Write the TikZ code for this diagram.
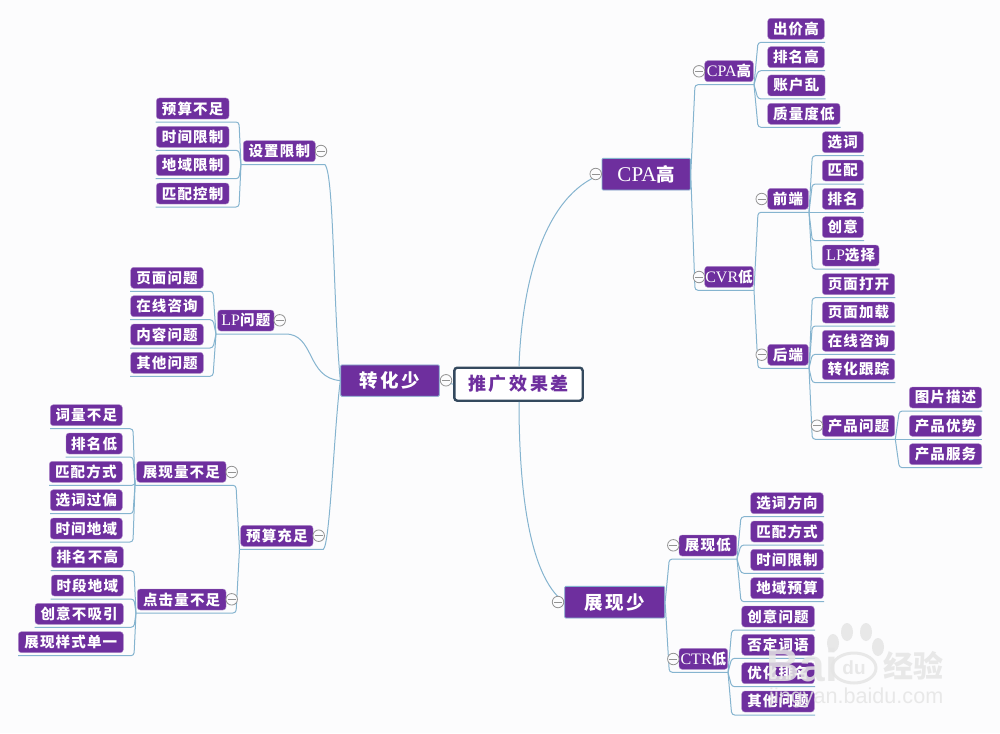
\documentclass[tikz,border=0pt]{standalone}
\usepackage{fontspec}
\setmainfont{Liberation Serif}
\newfontfamily\cjk[LetterSpace=8]{Noto Sans CJK SC}
\newfontfamily\cjkm[LetterSpace=14]{Noto Sans CJK SC}
\newfontfamily\lat{Liberation Serif}
\newfontfamily\wm{Liberation Sans}
\newfontfamily\wmc{Noto Sans CJK SC}
\definecolor{bg}{HTML}{FCFCFD}
\definecolor{pur}{HTML}{6E2F9E}
\definecolor{edgeb}{HTML}{85B4CF}
\definecolor{rootb}{HTML}{34495E}
\tikzset{
  x=1pt,y=-1pt,
  conn/.style={draw=edgeb,line width=1pt,rounded corners=3pt},
  curve/.style={draw=edgeb,line width=1pt},
  topicbox/.style={fill=pur,draw=pur!55!white,line width=0.4pt,rounded corners=3pt,inner sep=0pt,text=white,font=\cjk\bfseries\fontsize{14.5}{14.5}\selectfont},
  mainbox/.style={fill=pur,draw=edgeb,line width=0.8pt,rounded corners=1pt,inner sep=0pt,text=white,font=\cjkm\bfseries\fontsize{18.5}{18.5}\selectfont},
  rootbox/.style={fill=white,draw=rootb,line width=2.4pt,rounded corners=3pt,inner sep=0pt,text=pur,font=\cjkm\bfseries\fontsize{18}{18}\selectfont},
  markerc/.style={circle,draw=gray!85,fill=bg,line width=0.8pt,minimum size=11.5pt,inner sep=0pt,
    path picture={\draw[gray!85,line width=0.8pt] ([xshift=-4pt]path picture bounding box.center) -- ([xshift=4pt]path picture bounding box.center);}},
  wmark/.style={text=gray!20,opacity=0.85,inner sep=0pt},
}
% name, x1, x2, y1, elbow x, far x, text
\newcommand{\tpc}[7]{%
  \pgfmathsetmacro{\cxv}{(#2+#3)/2}%
  \pgfmathsetmacro{\wv}{#3-#2}%
  \pgfmathsetmacro{\cyv}{#4+10.5}%
  \pgfmathsetmacro{\uyv}{#4+24}%
  \node[topicbox,minimum width=\wv pt,minimum height=21pt] (#1) at (\cxv,\cyv) {#7};
  \coordinate (#1-a) at (#5,\uyv);
  \coordinate (#1-b) at (#6,\uyv);
}
\newcommand{\lnk}[2]{\draw[conn] (#1-b) -- (#2-a) -- (#2-b);}
\newcommand{\mrk}[3]{\node[markerc] (#1-m) at (#2,#3) {};}
\newcommand{\LL}[1]{{\lat\mdseries\fontsize{16}{16}\selectfont #1}}
\begin{document}
\begin{tikzpicture}
\useasboundingbox (0,0) rectangle (1000,733);
\fill[bg] (0,0) rectangle (1000,733);

% central and main nodes
\node[rootbox,minimum width=128.4pt,minimum height=33pt] (root) at (518.5,384.2) {推广效果差};
\node[mainbox,minimum width=98.6pt,minimum height=31.3pt] (zh) at (390,380.6) {转化少};
\node[mainbox,minimum width=88.3pt,minimum height=31.7pt] (cpa) at (646.2,174.2) {{\lat\mdseries\fontsize{21}{21}\selectfont CPA}高};
\node[mainbox,minimum width=100pt,minimum height=31.7pt] (zx) at (614.7,602.2) {展现少};

% right upper branch
\tpc{cpah}{704.7}{753.3}{60.7}{695}{754}{\LL{CPA}高}
\tpc{cvr}{704.7}{753.3}{266.3}{695}{754}{\LL{CVR}低}
\tpc{cj}{767.7}{824.3}{18.3}{758}{825}{出价高}
\tpc{pm}{767.7}{824.3}{46.7}{758}{825}{排名高}
\tpc{zh1}{767.7}{825}{75}{758}{825.5}{账户乱}
\tpc{zl}{767.7}{840}{103.3}{758}{840.5}{质量度低}
\tpc{qd}{767.7}{808.3}{188.3}{758}{809}{前端}
\tpc{hd}{767.7}{808.3}{344.3}{758}{809}{后端}
\tpc{xc}{822.3}{863.3}{131.7}{812.3}{864}{选词}
\tpc{pp}{822.3}{863.3}{160}{812.3}{864}{匹配}
\tpc{pm2}{822.3}{863.3}{188.3}{812.3}{864}{排名}
\tpc{cy}{822.3}{863.3}{216.7}{812.3}{864}{创意}
\tpc{lpx}{822.3}{879}{245}{812.3}{879.7}{\LL{LP}选择}
\tpc{ymk}{822.3}{894.7}{273.7}{812.3}{895.3}{页面打开}
\tpc{ymj}{822.3}{894.7}{302}{812.3}{895.3}{页面加载}
\tpc{zx1}{822.3}{894.7}{330.3}{812.3}{895.3}{在线咨询}
\tpc{zhg}{822.3}{894.7}{358.7}{812.3}{895.3}{转化跟踪}
\tpc{cp}{822.3}{894.7}{415.3}{812.3}{895.3}{产品问题}
\tpc{tp}{909.3}{981.7}{387}{899.3}{982.3}{图片描述}
\tpc{ys}{909.3}{981.7}{415.3}{899.3}{982.3}{产品优势}
\tpc{fw}{909.3}{981.7}{443.7}{899.3}{982.3}{产品服务}

% right lower branch
\tpc{zd}{679}{736.7}{535}{669.3}{737}{展现低}
\tpc{ctr}{679}{727.7}{648.3}{669.3}{728}{\LL{CTR}低}
\tpc{xf}{750.7}{823.3}{492.7}{741}{824}{选词方向}
\tpc{pf}{750.7}{823.3}{521}{741}{824}{匹配方式}
\tpc{sx}{750.7}{823.3}{549.3}{741}{824}{时间限制}
\tpc{dy}{750.7}{823.3}{577.7}{741}{824}{地域预算}
\tpc{cw}{741.7}{814.3}{606}{731.7}{815}{创意问题}
\tpc{fd}{741.7}{814.3}{634.3}{731.7}{815}{否定词语}
\tpc{yh}{741.7}{814.3}{662.7}{731.7}{815}{优化排名}
\tpc{qt}{741.7}{814.3}{691}{731.7}{815}{其他问题}

% left branch
\tpc{sz}{243.3}{315.3}{140.7}{325}{241}{设置限制}
\tpc{ysb}{156.3}{229}{98}{239}{155.7}{预算不足}
\tpc{sjx}{156.3}{229}{126.3}{239}{155.7}{时间限制}
\tpc{dyx}{156.3}{229}{154.7}{239}{155.7}{地域限制}
\tpc{ppk}{156.3}{229}{183}{239}{155.7}{匹配控制}
\tpc{lp}{217.7}{274}{310}{285}{216}{\LL{LP}问题}
\tpc{ymw}{130.7}{203.3}{267.3}{213}{130}{页面问题}
\tpc{zxz}{130.7}{203.3}{295.7}{213}{130}{在线咨询}
\tpc{nr}{130.7}{203.3}{324}{213}{130}{内容问题}
\tpc{qtw}{130.7}{203.3}{352.3}{213}{130}{其他问题}
\tpc{yc}{240.7}{313}{525.3}{323.3}{239.5}{预算充足}
\tpc{zb}{136.7}{226}{461.3}{236}{135}{展现量不足}
\tpc{dj}{137.3}{226}{589}{236}{136}{点击量不足}
\tpc{cl}{50.3}{122.3}{404.7}{133}{50}{词量不足}
\tpc{pd}{66}{122.3}{433}{133}{65.5}{排名低}
\tpc{pfs}{49.3}{122.3}{461.3}{135}{49}{匹配方式}
\tpc{xp}{50.3}{122.3}{489.7}{133}{50}{选词过偏}
\tpc{sd}{50.3}{122.3}{518}{133}{50}{时间地域}
\tpc{pg}{51.3}{123.3}{546.7}{134}{50.5}{排名不高}
\tpc{sdy}{51.3}{123.3}{575}{134}{50.5}{时段地域}
\tpc{cx}{35}{123.3}{603.3}{134}{34.5}{创意不吸引}
\tpc{zs}{18.3}{123.3}{631.7}{134}{18}{展现样式单一}

% connectors
\draw[curve] (root.north -| 519,0) .. controls (522,280) and (545,195) .. (cpa.west);
\draw[curve] (root.south -| 519,0) .. controls (519,480) and (527,575) .. (zx.west);
\draw[curve] (root.west) -- (zh.east);

\draw[conn] (cpa.east) -- (cpah-a) -- (cpah-b);
\draw[conn] (cpa.east) -- (cvr-a) -- (cvr-b);
\foreach \c in {cj,pm,zh1,zl}{\lnk{cpah}{\c}}
\foreach \c in {qd,hd}{\lnk{cvr}{\c}}
\foreach \c in {xc,pp,pm2,cy,lpx}{\lnk{qd}{\c}}
\foreach \c in {ymk,ymj,zx1,zhg,cp}{\lnk{hd}{\c}}
\foreach \c in {tp,ys,fw}{\lnk{cp}{\c}}
\draw[conn] (zx.east) -- (zd-a) -- (zd-b);
\draw[conn] (zx.east) -- (ctr-a) -- (ctr-b);
\foreach \c in {xf,pf,sx,dy}{\lnk{zd}{\c}}
\foreach \c in {cw,fd,yh,qt}{\lnk{ctr}{\c}}

\draw[curve] (zh.west) .. controls (333,300) and (334,175) .. (sz-a) -- (sz-b);
\draw[curve] (zh.west) .. controls (306,378) and (315,333.5) .. (lp-a) -- (lp-b);
\draw[curve] (zh.west) .. controls (334,430) and (330,545) .. (yc-a) -- (yc-b);
\foreach \c in {ysb,sjx,dyx,ppk}{\lnk{sz}{\c}}
\foreach \c in {ymw,zxz,nr,qtw}{\lnk{lp}{\c}}
\foreach \c in {zb,dj}{\lnk{yc}{\c}}
\foreach \c in {cl,pd,pfs,xp,sd}{\lnk{zb}{\c}}
\foreach \c in {pg,sdy,cx,zs}{\lnk{dj}{\c}}

% collapse markers
\mrk{root}{446}{380.3}
\mrk{cpa}{595.7}{174}
\mrk{zx}{558}{602}
\mrk{cpah}{699}{71.3}
\mrk{cvr}{699}{277}
\mrk{qd}{761.7}{199}
\mrk{hd}{761.7}{354.7}
\mrk{cp}{817}{425.7}
\mrk{zd}{673.3}{545.3}
\mrk{ctr}{673.3}{659}
\mrk{sz}{321}{151}
\mrk{lp}{279.7}{320.3}
\mrk{yc}{318.7}{535.7}
\mrk{zb}{231.7}{472}
\mrk{dj}{231.7}{599.3}

% watermark
\node[wmark,font=\wm\bfseries\fontsize{46}{46}\selectfont,anchor=west] (wba) at (766,665) {Bai};
\node[wmark,font=\wm\bfseries\fontsize{19}{19}\selectfont] (wdu) at (854,668) {du};
\draw[gray!20,opacity=0.85,line width=3pt] (854,668) ellipse (22pt and 15pt);
\foreach \a/\b in {833/643,847/632,866/632,878/647}{\fill[gray!20,opacity=0.85] (\a,\b) ellipse (6pt and 9pt);}
\node[wmark,font=\wmc\bfseries\fontsize{30}{30}\selectfont,anchor=west] (wjy) at (883,666) {经验};
\node[wmark,font=\wm\fontsize{21.6}{21.6}\selectfont,anchor=west] (wurl) at (769,698) {jingyan.baidu.com};
\end{tikzpicture}
\end{document}
